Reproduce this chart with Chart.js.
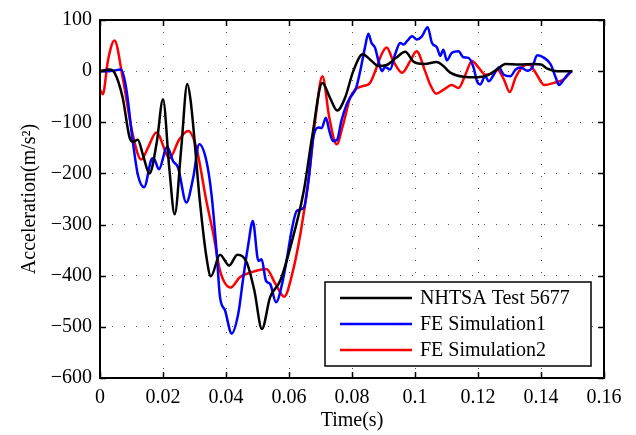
<!DOCTYPE html>
<html>
<head>
<meta charset="utf-8">
<script src="https://cdn.jsdelivr.net/npm/chart.js@4.4.0/dist/chart.umd.min.js"></script>
<style>
    html, body { margin: 0; padding: 0; background: #fff; }
    #wrap { width: 636px; height: 435px; }
</style>
</head>
<body>
<div id="wrap"><canvas id="accChart" width="636" height="435"></canvas></div>
<script>
// acceleration traces: time (s) / acceleration (m/s^2)

const testTime = [0, 0.003, 0.0046, 0.0072, 0.0094, 0.0105, 0.012, 0.0136, 0.0157, 0.018, 0.02, 0.022, 0.0237, 0.0258, 0.0277,
    0.0288, 0.0317, 0.0338, 0.0352, 0.0381, 0.041, 0.0436, 0.0466, 0.049, 0.0514, 0.054, 0.0572, 0.0604, 0.0647, 0.0673,
    0.0706, 0.073, 0.0753, 0.0778, 0.0804, 0.0834, 0.0857, 0.0884, 0.091, 0.094, 0.0969, 0.0996, 0.103, 0.1069, 0.109,
    0.1112, 0.1154, 0.1197, 0.123, 0.126, 0.1287, 0.133, 0.1378, 0.14, 0.142, 0.145, 0.15];
const testAcc = [0, 3, -3, -52, -130, -138, -134, -163, -200, -140, -55, -190, -280, -150, -25,
    -59, -254, -364, -401, -359, -380, -359, -374, -429, -504, -442, -410, -345, -234, -130,
    -23, -52, -77, -52, 0, 33, 23, 10, 12, 26, 38, 18, 14, 18, 10,
    -3, -11, -12, -8, 3, 14, 13, 14, 13, 5, 0, 0];

const sim1Time = [0, 0.003, 0.0067, 0.0083, 0.0104, 0.012, 0.014, 0.0163, 0.017, 0.0187, 0.0213, 0.0232, 0.0248, 0.0274,
    0.0296, 0.0315, 0.0338, 0.0354, 0.037, 0.0381, 0.0397, 0.0418, 0.0439, 0.0455, 0.0471, 0.0485, 0.0503, 0.0513, 0.0527,
    0.054, 0.0559, 0.0578, 0.0594, 0.061, 0.0625, 0.0647, 0.0663, 0.0677, 0.0693, 0.0704, 0.0717, 0.0728, 0.074, 0.0753,
    0.0766, 0.0783, 0.0794, 0.0813, 0.0826, 0.0841, 0.0852, 0.0862, 0.0873, 0.0884, 0.0895, 0.0905, 0.0921, 0.0937, 0.0953,
    0.0964, 0.0975, 0.0991, 0.1006, 0.1022, 0.104, 0.1054, 0.107, 0.108, 0.109, 0.1101, 0.1117, 0.1138, 0.1154, 0.117,
    0.1186, 0.1197, 0.1207, 0.1223, 0.1234, 0.125, 0.1266, 0.1282, 0.1303, 0.1319, 0.1335, 0.1356, 0.1372, 0.1388, 0.141,
    0.1431, 0.1447, 0.1457, 0.1473, 0.1484, 0.1497];
const sim1Acc = [0, 0, 3, -33, -137, -202, -227, -173, -170, -192, -148, -176, -189, -257,
    -208, -143, -176, -241, -351, -442, -468, -513, -474, -403, -338, -293, -371, -368, -410,
    -416, -452, -416, -364, -306, -273, -267, -208, -130, -110, -111, -91, -117, -137, -134,
    -98, -65, -52, -33, 0, 46, 73, 55, 46, 20, 0, 8, 3, 33, 55,
    52, 59, 68, 62, 68, 86, 55, 46, 30, 42, 21, 36, 39, 27, 26,
    7, -20, -26, -10, -20, -7, 7, -7, -10, 3, 7, 1, 7, 31, 26,
    13, -13, -27, -16, -7, 0];

const sim2Time = [0, 0.0009, 0.0025, 0.0046, 0.0072, 0.0104, 0.0131, 0.0152, 0.0179, 0.0221, 0.0251, 0.028, 0.0306, 0.0338,
    0.036, 0.0381, 0.0415, 0.0444, 0.0482, 0.0528, 0.0557, 0.0585, 0.061, 0.0636, 0.0663, 0.0684, 0.0706, 0.0728, 0.0751,
    0.0772, 0.0794, 0.081, 0.0836, 0.0857, 0.0878, 0.0894, 0.091, 0.0931, 0.0959, 0.0985, 0.1005, 0.1032, 0.1048, 0.1067,
    0.1091, 0.1117, 0.1138, 0.116, 0.1181, 0.1202, 0.1223, 0.1244, 0.126, 0.1282, 0.1301, 0.1319, 0.134, 0.1362, 0.1383,
    0.141, 0.1441, 0.1473, 0.1497];
const sim2Acc = [-36, -45, 20, 60, -13, -124, -173, -150, -120, -170, -134, -117, -150, -255,
    -319, -390, -423, -403, -393, -387, -416, -441, -397, -319, -208, -92, -10, -91, -143,
    -104, -52, -36, -29, -23, 7, 33, 46, 20, -3, 20, 39, 0, -26, -44,
    -36, -27, -33, -7, 20, 7, -7, -5, 3, -16, -41, -13, 8, 13, -3,
    -27, -23, -16, 0];

const seriesNames = ['NHTSA Test 5677', 'FE Simulation1', 'FE Simulation2'];
const seriesColors = ['#000000', '#0000ff', '#ff0000'];

const xTicks = [0, 0.02, 0.04, 0.06, 0.08, 0.1, 0.12, 0.14, 0.16];
const yTicks = [100, 0, -100, -200, -300, -400, -500, -600];

const FONT = '"Liberation Serif", "Times New Roman", serif';

function toPoints(ts, vs) {
    return ts.map((t, i) => ({ x: t, y: vs[i] }));
}

// box around the axes plus the little inward tick marks (matlab style)
const frameTicks = {
    id: 'frameTicks',
    afterDatasetsDraw(chart) {
        const { ctx, chartArea: a, scales } = chart;
        const len = 6;
        ctx.save();
        ctx.strokeStyle = '#000';
        ctx.lineWidth = 1.5;
        ctx.beginPath();
        xTicks.forEach(v => {
            const px = Math.round(scales.x.getPixelForValue(v)) + 0.5;
            ctx.moveTo(px, a.bottom); ctx.lineTo(px, a.bottom - len);
            ctx.moveTo(px, a.top); ctx.lineTo(px, a.top + len);
        });
        yTicks.forEach(v => {
            const py = Math.round(scales.y.getPixelForValue(v)) + 0.5;
            ctx.moveTo(a.left, py); ctx.lineTo(a.left + len, py);
            ctx.moveTo(a.right, py); ctx.lineTo(a.right - len, py);
        });
        ctx.stroke();
        ctx.lineWidth = 2;
        ctx.strokeRect(a.left, a.top, a.right - a.left, a.bottom - a.top);
        ctx.restore();
    }
};

// legend box sits inside the plot, lower right
const boxLegend = {
    id: 'boxLegend',
    afterDraw(chart) {
        const { ctx } = chart;
        const left = 325, top = 282, w = 266, h = 84;
        ctx.save();
        ctx.fillStyle = '#fff';
        ctx.fillRect(left, top, w, h);
        ctx.strokeStyle = '#000';
        ctx.lineWidth = 1.5;
        ctx.strokeRect(left, top, w, h);
        ctx.font = '20px ' + FONT;
        ctx.textBaseline = 'middle';
        chart.data.datasets.forEach((ds, i) => {
            const yy = top + 16 + i * 26;
            ctx.strokeStyle = ds.borderColor;
            ctx.lineWidth = 2.5;
            ctx.beginPath();
            ctx.moveTo(left + 15, yy);
            ctx.lineTo(left + 87, yy);
            ctx.stroke();
            ctx.fillStyle = '#000';
            ctx.fillText(ds.label, left + 95, yy + 1);
        });
        ctx.restore();
    }
};

const ctx = document.getElementById('accChart').getContext('2d');

const datasets = [
    toPoints(testTime, testAcc),
    toPoints(sim1Time, sim1Acc),
    toPoints(sim2Time, sim2Acc)
].map((pts, i) => ({
    label: seriesNames[i],
    data: pts,
    borderColor: seriesColors[i],
    borderWidth: 2.5,
    pointRadius: 0,
    fill: false,
    cubicInterpolationMode: 'monotone'
}));

new Chart(ctx, {
    type: 'line',
    data: { datasets: datasets },
    options: {
        responsive: false,
        animation: false,
        devicePixelRatio: 1,
        layout: { padding: { top: 18, right: 32, left: 0, bottom: 0 } },
        plugins: {
            legend: { display: false },
            tooltip: { enabled: false }
        },
        scales: {
            x: {
                type: 'linear',
                min: 0,
                max: 0.16,
                afterBuildTicks: s => { s.ticks = xTicks.map(v => ({ value: v })); },
                afterFit: s => { s.height = 57; },
                grid: { color: '#555', lineWidth: 1, drawTicks: false },
                // in v4 the dash of the grid lines comes from border.dash
                border: { display: false, dash: [1, 11] },
                ticks: {
                    padding: 8,
                    color: '#000',
                    font: { family: FONT, size: 20 },
                    callback: v => String(+v.toFixed(2))
                },
                title: {
                    display: true,
                    text: 'Time(s)',
                    color: '#000',
                    font: { family: FONT, size: 20 },
                    padding: { top: 0, bottom: 2 }
                }
            },
            y: {
                min: -600,
                max: 100,
                afterBuildTicks: s => { s.ticks = yTicks.map(v => ({ value: v })); },
                afterFit: s => { s.width = 100; },
                grid: { color: '#555', lineWidth: 1, drawTicks: false },
                border: { display: false, dash: [1, 11] },
                ticks: {
                    padding: 8,
                    color: '#000',
                    font: { family: FONT, size: 20 },
                    callback: v => String(v).replace('-', '\u2212')
                },
                title: {
                    display: true,
                    text: 'Acceleration(m/s\u00b2)',
                    color: '#000',
                    font: { family: FONT, size: 20 },
                    padding: { top: 18, bottom: 0 }
                }
            }
        }
    },
    plugins: [frameTicks, boxLegend]
});
</script>
</body>
</html>
